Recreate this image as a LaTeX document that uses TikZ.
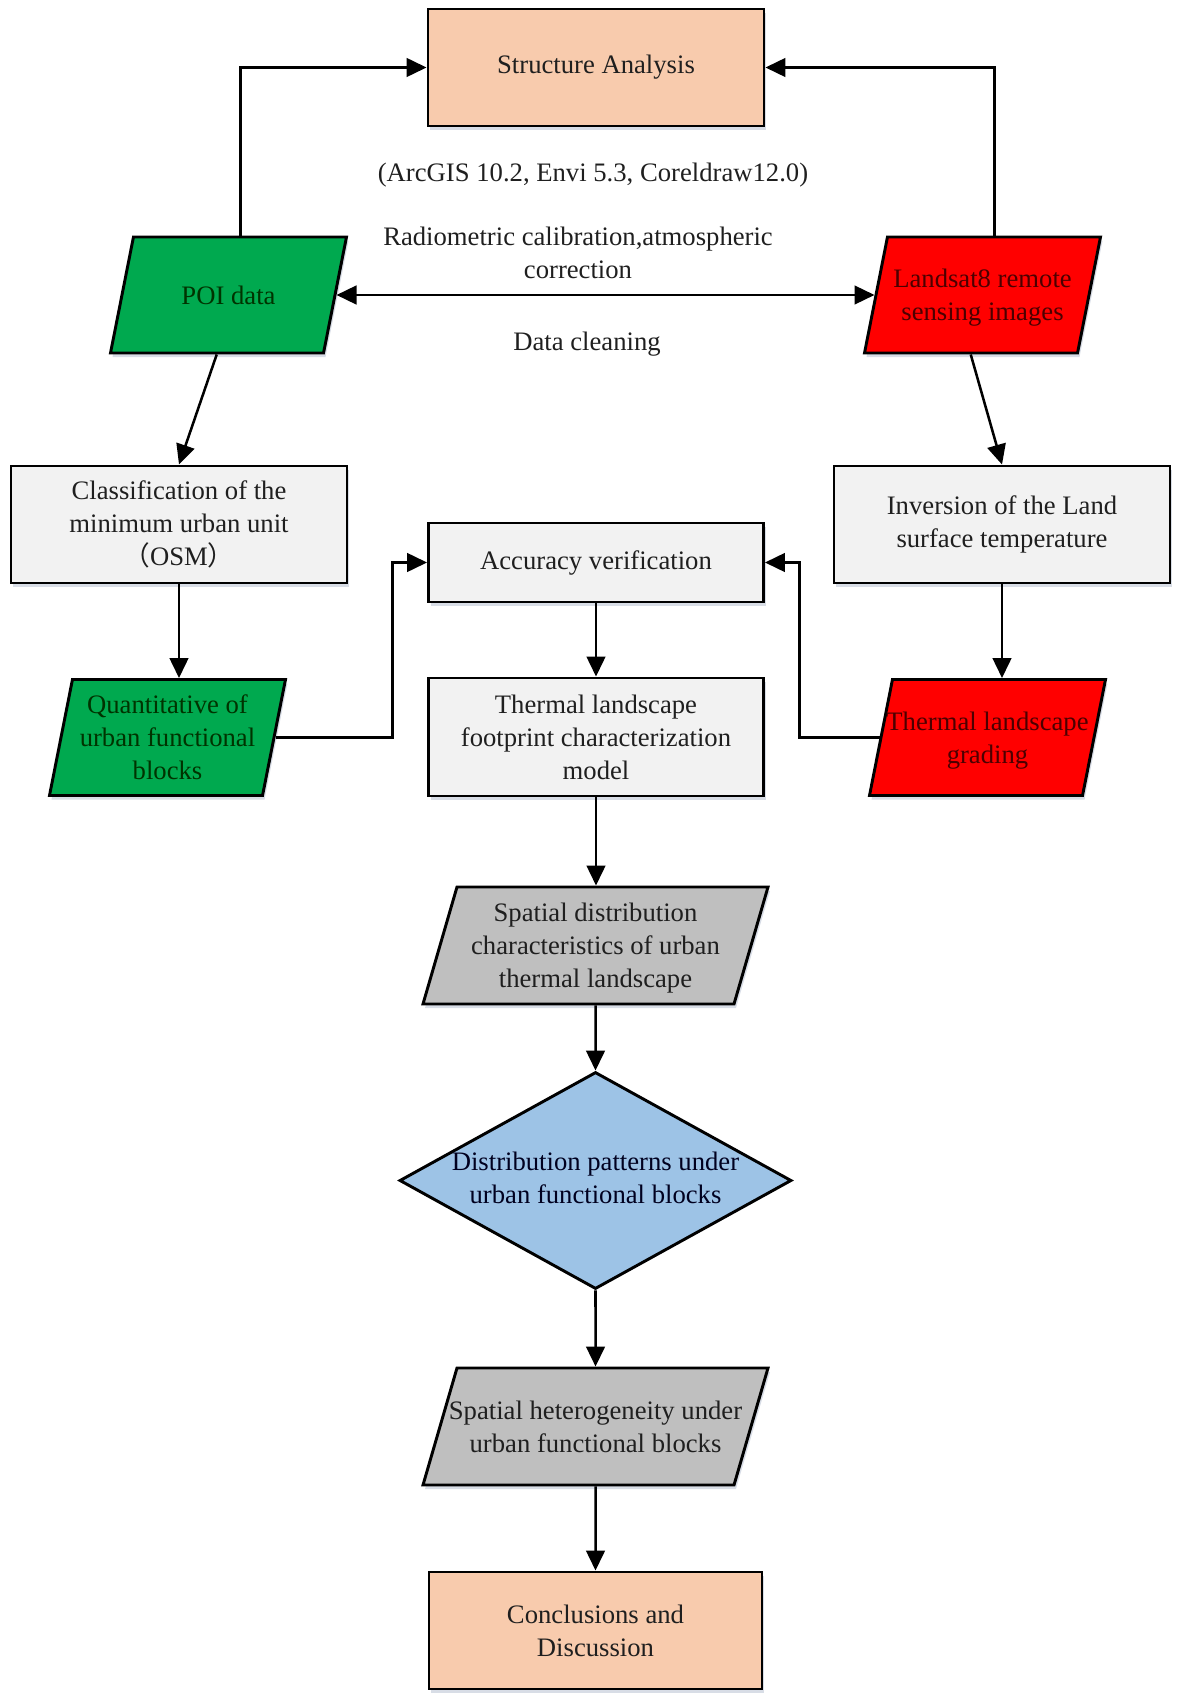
\documentclass[tikz,border=0pt]{standalone}
\usepackage{fontspec}
\setmainfont{Liberation Serif}
\newfontfamily\cjk{Noto Sans CJK SC}
\usetikzlibrary{shapes.geometric,arrows.meta,shadows,calc}
\definecolor{peach}{HTML}{F8CBAD}
\definecolor{lgray}{HTML}{F2F2F2}
\definecolor{pgreen}{HTML}{00A94F}
\definecolor{pred}{HTML}{FF0000}
\definecolor{pgray}{HTML}{BFBFBF}
\definecolor{pblue}{HTML}{9DC3E6}
\definecolor{shadowc}{HTML}{A9B4C8}
% fixed-size text block: width #1, height #2, lines #3 (overflow is centred)
\newcommand\fitlines[3]{\makebox[#1][c]{$\vcenter{\hbox{\rule{0pt}{#2}}}$\raisebox{-2pt}{\begin{tabular}[c]{@{}c@{}}#3\end{tabular}}}}
\begin{document}
\begin{tikzpicture}[x=0.75pt,y=-0.75pt,
  every node/.style={font=\fontsize{20}{24.75}\selectfont, text=black!88},
  shad/.style={drop shadow={shadow xshift=1.5pt,shadow yshift=-3pt,fill=shadowc,opacity=0.45}},
  box/.style={draw, line width=2.2pt, rectangle, align=center, inner sep=2pt, shad},
  para/.style={draw, line width=2.2pt, trapezium, trapezium left angle=78.8,
    trapezium right angle=101.2, trapezium stretches body, align=center, inner sep=0pt,
    minimum width=177pt, shad},
  bigpara/.style={para, trapezium left angle=73.8, trapezium right angle=106.2,
    minimum width=258.75pt},
  conn/.style={line width=1.9pt, -{Triangle[length=15pt,width=14pt]}},
  label/.style={align=center, inner sep=0pt}
]
\useasboundingbox (0,0) rectangle (1181,1708);

% boxes
\node[box, fill=peach, minimum width=252pt, minimum height=87.75pt] (sa) at (596,67.5) {Structure Analysis};
\node[box, fill=lgray, minimum width=252pt, minimum height=87.75pt] (cls) at (179,524.5)
  {Classification of the\\minimum urban unit\\{\cjk （}OSM{\cjk ）}};
\node[box, fill=lgray, minimum width=252pt, minimum height=87.75pt] (inv) at (1002,524.5)
  {Inversion of the Land\\surface temperature};
\node[box, fill=lgray, minimum width=251.25pt, minimum height=59.25pt] (acc) at (596,562.5)
  {Accuracy verification};
\node[box, fill=lgray, minimum width=251.25pt, minimum height=88.5pt] (foot) at (596,737)
  {Thermal landscape\\footprint characterization\\model};
\node[box, fill=peach, minimum width=249.75pt, minimum height=87.75pt] (conc) at (595.5,1630.5)
  {Conclusions and\\Discussion};

% parallelograms
\node[para, fill=pgreen, text=black!80!green] (poi) at (228.5,295)
  {\fitlines{138pt}{87pt}{POI data}};
\node[para, fill=pred, text=black!70!red] (land) at (982.5,295)
  {\fitlines{138pt}{87pt}{Landsat8 remote\\sensing images}};
\node[para, fill=pgreen, text=black!80!green] (quant) at (167.5,737.5)
  {\fitlines{138pt}{87pt}{Quantitative of\\urban functional\\blocks}};
\node[para, fill=pred, text=black!70!red] (grad) at (987.5,737.5)
  {\fitlines{138pt}{87pt}{Thermal landscape\\grading}};
\node[bigpara, fill=pgray] (sd) at (595.5,945.5)
  {\fitlines{200pt}{87.75pt}{Spatial distribution\\characteristics of urban\\thermal landscape}};
\node[bigpara, fill=pgray] (sh) at (595.5,1426.5)
  {\fitlines{200pt}{87.75pt}{Spatial heterogeneity under\\urban functional blocks}};

% diamond
\node[draw, line width=2.2pt, diamond, aspect=1.8, fill=pblue, inner sep=0pt,
  minimum width=294pt, minimum height=162.75pt, text=black!80!blue!60!black] (dia) at (595.5,1180.5)
  {\fitlines{170pt}{40pt}{Distribution patterns under\\urban functional blocks}};

% free labels
\node[label] (arc) at (593,175) {(ArcGIS 10.2, Envi 5.3, Coreldraw12.0)};
\node[label] (rad) at (578,252.5) {Radiometric calibration,atmospheric\\correction};
\node[label] (clean) at (587,344) {Data cleaning};

% connectors
\draw[conn] (poi.top side) |- (sa.west);
\draw[conn] (land.top side) |- (sa.east);
\draw[line width=1.9pt, {Triangle[length=15pt,width=14pt]}-{Triangle[length=15pt,width=14pt]}]
  (poi.right side) -- (land.left side);
\draw[conn] (poi.bottom side) -- (cls.north);
\draw[conn] (land.bottom side) -- (inv.north);
\draw[conn] (cls.south) -- (cls.south |- quant.top side);
\draw[conn] (inv.south) -- (inv.south |- grad.top side);
\draw[conn] (quant.right side) -- ++(117,0) |- (acc.west);
\draw[conn] (grad.left side) -- ++(-80,0) |- (acc.east);
\draw[conn] (acc.south) -- (foot.north);
\draw[conn] (foot.south) -- (foot.south |- sd.north);
\draw[conn] (sd.south) -- (dia.north);
\draw[conn] (dia.south) -- (sh.north);
\draw[conn] (sh.south) -- (conc.north);
\end{tikzpicture}
\end{document}
